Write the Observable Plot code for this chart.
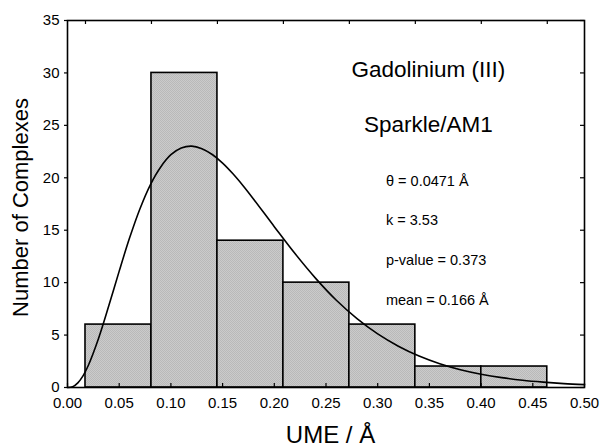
<!DOCTYPE html>
<html>
<head>
<meta charset="utf-8">
<script src="https://cdn.jsdelivr.net/npm/d3@7"></script>
<script src="https://cdn.jsdelivr.net/npm/@observablehq/plot@0.6"></script>
<style>
  html, body { margin: 0; padding: 0; background: #fff; }
  svg { display: block; }
</style>
</head>
<body>
<div id="chart"></div>
<script>
// Histogram bins (UME / Å) and counts
const binStart = [0.0174, 0.0812, 0.1450, 0.2088, 0.2726, 0.3364, 0.4002];
const binEnd   = [0.0812, 0.1450, 0.2088, 0.2726, 0.3364, 0.4002, 0.4640];
const counts   = [6, 30, 14, 10, 6, 2, 2];

// Fitted gamma curve
const curveX = [0, 0.005, 0.01, 0.015, 0.02, 0.03, 0.04, 0.05, 0.06, 0.07, 0.08, 0.09, 0.10, 0.11, 0.12, 0.13, 0.14, 0.15, 0.16, 0.17, 0.18, 0.20, 0.22, 0.24, 0.26, 0.28, 0.30, 0.32, 0.34, 0.36, 0.38, 0.40, 0.42, 0.44, 0.46, 0.48, 0.50];
const curveY = [0, 0.07, 0.44, 1.11, 2.07, 4.67, 7.81, 11.10, 14.25, 17.03, 19.31, 21.01, 22.20, 22.84, 23.02, 22.78, 22.22, 21.40, 20.38, 19.22, 17.96, 15.34, 12.77, 10.41, 8.32, 6.57, 5.11, 3.94, 3.00, 2.27, 1.70, 1.27, 0.94, 0.69, 0.51, 0.37, 0.27];

const xTicks = [0, 0.05, 0.10, 0.15, 0.20, 0.25, 0.30, 0.35, 0.40, 0.45, 0.50];
const yTicks = [0, 5, 10, 15, 20, 25, 30, 35];
const topTicks = [0.0174, 0.0812, 0.1450, 0.2088, 0.2726, 0.3364, 0.4002, 0.4640];

const titleLines = ["Gadolinium (III)", "Sparkle/AM1"];
const statLines = ["\u03b8 = 0.0471 \u00c5", "k = 3.53", "p-value = 0.373", "mean = 0.166 \u00c5"];
const xLabel = "UME / \u00c5";
const yLabel = "Number of Complexes";

const bars = counts.map((c, i) => ({x1: binStart[i], x2: binEnd[i], y: c}));
const curve = curveX.map((x, i) => ({x, y: curveY[i]}));

const W = 601, H = 448;
const mL = 67, mR = 17, mT = 20, mB = 61;
const innerW = W - mL - mR, innerH = H - mT - mB;
const font = "'Liberation Sans', Arial, Helvetica, sans-serif";

const chart = Plot.plot({
  width: W,
  height: H,
  marginLeft: mL,
  marginRight: mR,
  marginTop: mT,
  marginBottom: mB,
  style: {fontFamily: font, background: "#fff", color: "#000"},
  x: {domain: [0, 0.5], axis: null},
  y: {domain: [0, 35], axis: null},
  marks: [
    Plot.rectY(bars, {x1: "x1", x2: "x2", y: "y", fill: "url(#stipple)", stroke: "#000", strokeWidth: 1.6}),
    Plot.line(curve, {x: "x", y: "y", stroke: "#000", strokeWidth: 1.6, curve: "catmull-rom"}),
    // bottom inward ticks
    Plot.tickX(xTicks, {x: d => d, stroke: "#000", strokeWidth: 1.2, insetTop: innerH - 4}),
    // top inward ticks at bin edges
    Plot.tickX(topTicks, {x: d => d, stroke: "#000", strokeWidth: 1.2, insetBottom: innerH - 4}),
    // right inward ticks
    Plot.tickY(yTicks, {y: d => d, stroke: "#000", strokeWidth: 1.2, insetLeft: innerW - 4}),
    // left small outward ticks
    Plot.axisY(yTicks, {anchor: "left", label: null, tickSize: 3, tickPadding: 5, fontSize: 15, tickFormat: d => String(d), stroke: "#000", strokeWidth: 1.2}),
    Plot.axisX(xTicks, {anchor: "bottom", label: null, tickSize: 0, tickPadding: 10, fontSize: 15, tickFormat: d => d.toFixed(2)}),
    Plot.frame({stroke: "#000", strokeWidth: 1.6}),
    Plot.text(titleLines, {x: () => 0.349, y: (d, i) => 30.3 - i * 5.2, text: d => d, fontSize: 22.5, textAnchor: "middle", fill: "#000"}),
    Plot.text(statLines, {x: () => 0.308, y: (d, i) => 19.7 - i * 3.8, text: d => d, fontSize: 14.5, textAnchor: "start", fill: "#000"})
  ]
});

// add stipple pattern (fine, low-contrast grey)
const svg = d3.select(chart);
const defs = svg.insert("defs", ":first-child");
const pat = defs.append("pattern").attr("id", "stipple").attr("patternUnits", "userSpaceOnUse").attr("width", 2).attr("height", 2);
pat.append("rect").attr("width", 2).attr("height", 2).attr("fill", "#cbcbcb");
pat.append("rect").attr("width", 1).attr("height", 1).attr("fill", "#b9b9b9");
pat.append("rect").attr("x", 1).attr("y", 1).attr("width", 1).attr("height", 1).attr("fill", "#b9b9b9");

// axis titles
svg.append("text")
  .attr("x", mL + innerW / 2 + 5)
  .attr("y", H - 5)
  .attr("text-anchor", "middle")
  .attr("font-family", font)
  .attr("font-size", 24)
  .attr("fill", "#000")
  .text(xLabel);
svg.append("text")
  .attr("transform", `translate(28, ${mT + innerH / 2 + 4}) rotate(-90)`)
  .attr("text-anchor", "middle")
  .attr("font-family", font)
  .attr("font-size", 22)
  .attr("fill", "#000")
  .text(yLabel);

document.getElementById("chart").appendChild(chart);
</script>
</body>
</html>
